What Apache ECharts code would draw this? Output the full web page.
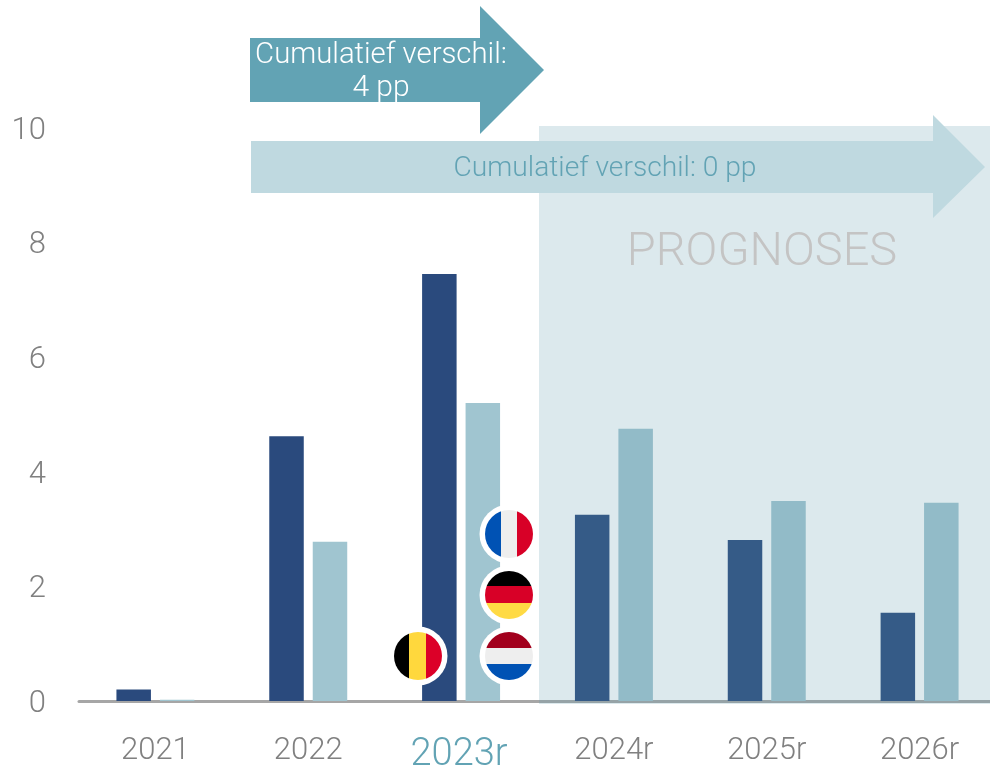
<!DOCTYPE html>
<html>
<head>
<meta charset="utf-8">
<title>Cumulatief verschil</title>
<script src="https://cdn.jsdelivr.net/npm/echarts@6/dist/echarts.min.js"></script>
<style>
  html, body { margin: 0; padding: 0; background: #fff; }
  #chart { width: 990px; height: 765px; }
</style>
</head>
<body>
<div id="chart"></div>
<script>
var categories = ["2021", "2022", "2023r", "2024r", "2025r", "2026r"];
var darkValues = [0.2, 4.62, 7.45, 3.25, 2.81, 1.54];
var lightValues = [0.02, 2.78, 5.2, 4.75, 3.49, 3.46];
var yTicks = [0, 2, 4, 6, 8, 10];

var teal = "#62a3b4";
var grey = "#808080";
var font = "Roboto";

// ronde vlag als svg, strepen binnen een cirkel
function flag(stripes, vertical) {
  var rects = "";
  stripes.forEach(function (s) {
    rects += vertical
      ? '<rect x="' + s[0] + '" y="0" width="' + s[1] + '" height="48" fill="' + s[2] + '"/>'
      : '<rect x="0" y="' + s[0] + '" width="48" height="' + s[1] + '" fill="' + s[2] + '"/>';
  });
  var svg =
    '<svg xmlns="http://www.w3.org/2000/svg" width="60" height="60" viewBox="-6 -6 60 60">' +
    '<circle cx="24" cy="24" r="29.5" fill="#fff"/>' +
    '<clipPath id="c"><circle cx="24" cy="24" r="24"/></clipPath>' +
    '<g clip-path="url(#c)">' + rects + "</g></svg>";
  return "data:image/svg+xml;charset=utf-8," + encodeURIComponent(svg);
}

function flagImage(src, cx, cy) {
  return {
    type: "image",
    z: 20,
    style: { image: src, x: cx - 30, y: cy - 30, width: 60, height: 60 },
  };
}

function label(text, cx, cy, size, color) {
  return {
    type: "text",
    z: 30,
    style: {
      text: text,
      x: cx,
      y: cy,
      align: "center",
      verticalAlign: "middle",
      fontFamily: font,
      fontWeight: 300,
      fontSize: size,
      fill: color,
    },
  };
}

var be = flag([[0, 15, "#000"], [15, 17, "#ffd83d"], [32, 16, "#dc0028"]], true);
var fr = flag([[0, 16, "#0052b4"], [16, 16, "#eeeeee"], [32, 16, "#d80027"]], true);
var de = flag([[0, 15, "#000"], [15, 17, "#d80027"], [32, 16, "#ffda44"]], false);
var nl = flag([[0, 16, "#a2001d"], [16, 16, "#eeeeee"], [32, 16, "#0052b4"]], false);

var option = {
  animation: false,
  backgroundColor: "#fff",
  grid: { left: 79, top: 128, width: 917, height: 573, outerBoundsMode: "none" },
  xAxis: {
    type: "category",
    data: categories,
    axisTick: { show: false },
    axisLine: { lineStyle: { color: "#a6a6a6", width: 3 } },
    axisLabel: {
      interval: 0,
      margin: 35,
      color: grey,
      fontFamily: font,
      fontWeight: 300,
      fontSize: 31,
      formatter: function (v) {
        return v === "2023r" ? "{hl|" + v + "}" : v;
      },
      rich: {
        hl: { color: teal, fontFamily: font, fontWeight: 300, fontSize: 38, padding: [0, 4, 0, 0] },
      },
    },
  },
  yAxis: {
    type: "value",
    min: yTicks[0],
    max: yTicks[yTicks.length - 1],
    interval: 2,
    splitLine: { show: false },
    axisLine: { show: false },
    axisTick: { show: false },
    axisLabel: {
      margin: 33,
      color: grey,
      fontFamily: font,
      fontWeight: 300,
      fontSize: 31,
      formatter: "{v|{value}}",
      rich: {
        v: { color: grey, fontFamily: font, fontWeight: 300, fontSize: 31, padding: [6, 0, 0, 0] },
      },
    },
  },
  series: [
    {
      type: "bar",
      data: darkValues,
      barWidth: 34.5,
      barGap: "26%",
      itemStyle: { color: "#2a4a7d" },
    },
    {
      type: "bar",
      data: lightValues,
      barWidth: 34.5,
      itemStyle: { color: "#a0c5d0" },
    },
  ],
  graphic: [
    // prognoses-vlak over de balken
    {
      type: "rect",
      z: 10,
      shape: { x: 539, y: 126, width: 451, height: 578 },
      style: { fill: "rgba(96,155,174,0.22)" },
    },
    {
      type: "polygon",
      z: 15,
      shape: {
        points: [[250, 38], [480, 38], [480, 6], [544, 70], [480, 134], [480, 102], [250, 102]],
      },
      style: { fill: teal },
    },
    {
      type: "polygon",
      z: 15,
      shape: {
        points: [[251, 141], [933, 141], [933, 115], [985, 167], [933, 218], [933, 193], [251, 193]],
      },
      style: { fill: "#bfd9e0" },
    },
    label("Cumulatief verschil:", 381, 56, 29.3, "#fff"),
    label("4 pp", 381, 88, 30, "#fff"),
    label("Cumulatief verschil: 0 pp", 605, 169, 28.2, teal),
    label("PROGNOSES", 762, 253, 47, "#c4c4c4"),
    flagImage(be, 418, 656),
    flagImage(fr, 509, 534),
    flagImage(de, 509, 595),
    flagImage(nl, 509, 656),
  ],
};

var myChart = echarts.init(document.getElementById("chart"));
myChart.setOption(option);
window.addEventListener("resize", function () {
  myChart.resize();
});
</script>
</body>
</html>
